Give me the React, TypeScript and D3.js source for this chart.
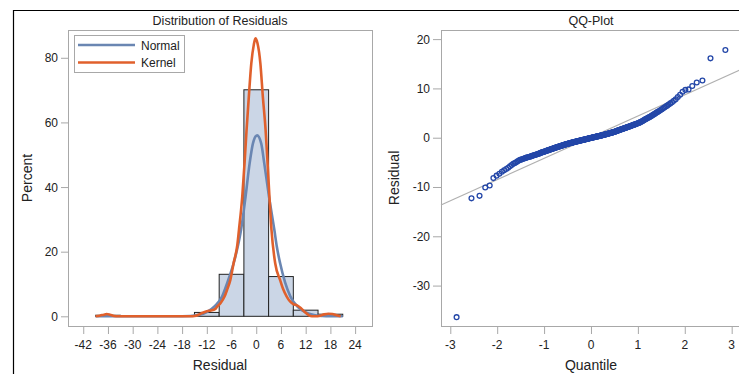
import React from "react";
import * as d3 from "d3";

// ---------- Data ----------
// Histogram bins (bin start, bin end, percent)
const binStarts = [-39, -33, -27, -21, -15, -9, -3, 3, 9, 15];
const binPercents = [0.33, 0, 0, 0, 1.2, 13.0, 70.1, 12.3, 1.9, 0.65];
const binWidth = 6;

// Normal density curve (residual, percent)
const normalCurve: [number, number][] = [
  [-39, 0], [-20, 0], [-16, 0.1], [-14, 0.4], [-12, 1.3], [-10, 3.2], [-8.3, 6.1], [-7, 10.5],
  [-5.5, 16.4], [-4.5, 21.5], [-3.7, 26.7], [-2.6, 37], [-1.6, 47.4], [-0.8, 53.5], [0.2, 56],
  [1.2, 53.5], [1.94, 47.4], [3.1, 37], [4.4, 26.7], [5.0, 21.5], [5.8, 16.4], [7, 10.5],
  [8.3, 6.1], [10, 3.0], [12, 1.2], [14, 0.4], [16, 0.1], [18, 0], [21, 0],
];

// Kernel density curve (residual, percent)
const kernelCurve: [number, number][] = [
  [-39, 0], [-38, 0.2], [-37, 0.5], [-36.3, 0.7], [-35.5, 0.5], [-34.5, 0.1], [-33.5, 0],
  [-20, 0], [-16, 0], [-15, 0.1], [-14, 0.5], [-13, 1.1], [-12, 1.6], [-11, 1.8], [-10, 2.2],
  [-9.5, 3.0], [-8.6, 4.2], [-7.7, 6.1], [-7.0, 8.5], [-6.3, 11.2], [-5.5, 16.4], [-4.6, 22],
  [-4.2, 26.7], [-3.4, 37], [-2.84, 47.4], [-2.35, 57.7], [-1.8, 68], [-1.2, 78.3], [-0.6, 84],
  [-0.2, 86], [0.3, 84.5], [1.0, 78.3], [1.6, 68], [2.27, 57.7], [2.75, 47.4], [3.2, 37],
  [3.7, 26.7], [4.6, 16.4], [5.8, 11.2], [6.5, 8.5], [7.4, 6.1], [8.2, 4.6], [9.0, 3.8],
  [9.9, 3.4], [10.8, 2.6], [11.8, 1.3], [12.8, 0.3], [13.5, 0], [14.5, 0], [15.5, 0.2],
  [16.5, 0.6], [17.5, 0.8], [18.5, 0.7], [19.5, 0.3], [20.5, 0],
];

const histXTicks = [-42, -36, -30, -24, -18, -12, -6, 0, 6, 12, 18, 24];
const histYTicks = [0, 20, 40, 60, 80];

// Sorted residuals (n = 300) for the QQ plot
const residuals = [
  -36.4, -12.3, -11.8, -10.1, -9.7, -8.2, -7.7, -7.3, -6.9, -6.6,
  -6.35, -6.1, -5.8, -5.55, -5.3, -5.15, -5.0, -4.8, -4.65, -4.5,
  -4.42, -4.34, -4.26, -4.18, -4.1, -4.04, -3.98, -3.92, -3.86, -3.8,
  -3.74, -3.68, -3.62, -3.56, -3.5, -3.45, -3.4, -3.35, -3.3, -3.25,
  -3.19, -3.13, -3.07, -3.02, -2.97, -2.93, -2.88, -2.84, -2.79, -2.75,
  -2.71, -2.66, -2.62, -2.58, -2.53, -2.49, -2.45, -2.41, -2.36, -2.32,
  -2.28, -2.25, -2.21, -2.17, -2.14, -2.1, -2.06, -2.02, -1.99, -1.95,
  -1.92, -1.88, -1.85, -1.82, -1.78, -1.75, -1.72, -1.69, -1.65, -1.62,
  -1.59, -1.56, -1.53, -1.5, -1.47, -1.44, -1.41, -1.38, -1.35, -1.32,
  -1.3, -1.27, -1.25, -1.22, -1.2, -1.17, -1.15, -1.12, -1.1, -1.07,
  -1.05, -1.03, -1.0, -0.98, -0.96, -0.94, -0.92, -0.89, -0.87, -0.85,
  -0.83, -0.81, -0.79, -0.77, -0.75, -0.73, -0.71, -0.69, -0.67, -0.65,
  -0.63, -0.61, -0.59, -0.57, -0.55, -0.53, -0.51, -0.49, -0.47, -0.45,
  -0.43, -0.41, -0.39, -0.37, -0.35, -0.33, -0.31, -0.29, -0.27, -0.25,
  -0.23, -0.21, -0.19, -0.17, -0.15, -0.13, -0.11, -0.09, -0.07, -0.05,
  -0.03, -0.01, 0.0, 0.02, 0.04, 0.06, 0.08, 0.09, 0.11, 0.13,
  0.15, 0.17, 0.19, 0.21, 0.23, 0.25, 0.26, 0.28, 0.3, 0.32,
  0.34, 0.36, 0.38, 0.4, 0.42, 0.44, 0.46, 0.48, 0.5, 0.52,
  0.54, 0.56, 0.59, 0.61, 0.63, 0.65, 0.67, 0.7, 0.72, 0.74,
  0.76, 0.79, 0.81, 0.83, 0.86, 0.88, 0.91, 0.93, 0.96, 0.98,
  1.01, 1.03, 1.06, 1.09, 1.11, 1.14, 1.17, 1.2, 1.22, 1.25,
  1.29, 1.32, 1.36, 1.39, 1.43, 1.46, 1.5, 1.53, 1.57, 1.6,
  1.64, 1.67, 1.71, 1.74, 1.78, 1.81, 1.85, 1.88, 1.92, 1.95,
  1.99, 2.03, 2.06, 2.1, 2.14, 2.18, 2.22, 2.25, 2.29, 2.33,
  2.38, 2.42, 2.47, 2.51, 2.56, 2.6, 2.65, 2.69, 2.74, 2.78,
  2.83, 2.88, 2.93, 2.97, 3.02, 3.1, 3.17, 3.25, 3.32, 3.4,
  3.49, 3.58, 3.67, 3.76, 3.85, 3.94, 4.03, 4.12, 4.21, 4.3,
  4.42, 4.54, 4.66, 4.78, 4.9, 5.04, 5.18, 5.32, 5.46, 5.6,
  5.78, 5.96, 6.14, 6.32, 6.5, 6.73, 6.96, 7.2, 7.5, 7.8,
  8.25, 8.7, 9.3, 9.7, 9.8, 10.5, 11.2, 11.6, 16.1, 17.8,
];

// Reference line: residual = mean + sd * quantile
const refMean = 0.1;
const refSd = 4.3;

const qqXTicks = [-3, -2, -1, 0, 1, 2, 3];
const qqYTicks = [-30, -20, -10, 0, 10, 20];

// ---------- helpers ----------
function invNorm(p: number): number {
  // Acklam's approximation
  const a = [-3.969683028665376e1, 2.209460984245205e2, -2.759285104469687e2, 1.38357751867269e2, -3.066479806614716e1, 2.506628277459239];
  const b = [-5.447609879822406e1, 1.615858368580409e2, -1.556989798598866e2, 6.680131188771972e1, -1.328068155288572e1];
  const c = [-7.784894002430293e-3, -3.223964580411365e-1, -2.400758277161838, -2.549732539343734, 4.374664141464968, 2.938163982698783];
  const d = [7.784695709041462e-3, 3.224671290700398e-1, 2.445134137142996, 3.754408661907416];
  const pl = 0.02425;
  if (p < pl) {
    const q = Math.sqrt(-2 * Math.log(p));
    return (((((c[0] * q + c[1]) * q + c[2]) * q + c[3]) * q + c[4]) * q + c[5]) / ((((d[0] * q + d[1]) * q + d[2]) * q + d[3]) * q + 1);
  }
  if (p > 1 - pl) {
    const q = Math.sqrt(-2 * Math.log(1 - p));
    return -(((((c[0] * q + c[1]) * q + c[2]) * q + c[3]) * q + c[4]) * q + c[5]) / ((((d[0] * q + d[1]) * q + d[2]) * q + d[3]) * q + 1);
  }
  const q = p - 0.5;
  const r = q * q;
  return ((((((a[0] * r + a[1]) * r + a[2]) * r + a[3]) * r + a[4]) * r + a[5]) * q) / (((((b[0] * r + b[1]) * r + b[2]) * r + b[3]) * r + b[4]) * r + 1);
}

const FONT = "'Liberation Sans', Arial, Helvetica, sans-serif";
const AXIS = "#a8a8a8";
const TEXT = "#222";

export default function App() {
  // Left panel
  const L = { x0: 68, x1: 372, y0: 30, y1: 326 };
  const hx = d3.scaleLinear().domain([-45.7, 28.1]).range([L.x0, L.x1]);
  const hy = d3.scaleLinear().domain([-3.0, 88.6]).range([L.y1, L.y0]);
  const lineH = d3
    .line<[number, number]>()
    .x((d) => hx(d[0]))
    .y((d) => hy(d[1]))
    .curve(d3.curveMonotoneX);

  // Right panel
  const R = { x0: 441, x1: 760, y0: 30, y1: 326 };
  const qx = d3.scaleLinear().domain([-3.198, 3.604]).range([R.x0, R.x1]);
  const qy = d3.scaleLinear().domain([-38.2, 21.85]).range([R.y1, R.y0]);
  const n = residuals.length;
  const qq = residuals.map((r, i) => [invNorm((i + 1 - 0.375) / (n + 0.25)), r] as [number, number]);
  const refQ = qx.domain();

  return (
    <svg
      width={739}
      height={374}
      style={{ position: "absolute", left: 0, top: 0, background: "#fff" }}
      fontFamily={FONT}
    >
      <rect x={0} y={0} width={739} height={374} fill="#fff" />
      {/* outer frame */}
      <path d="M13.5,374 L13.5,10.5 L739,10.5" fill="none" stroke="#000" strokeWidth={1.2} />

      {/* ---------------- Left: histogram ---------------- */}
      <text x={(L.x0 + L.x1) / 2} y={24.5} textAnchor="middle" fontSize={12.5} fill={TEXT}>
        Distribution of Residuals
      </text>
      <rect x={L.x0 + 0.5} y={L.y0 + 0.5} width={L.x1 - L.x0} height={L.y1 - L.y0} fill="none" stroke={AXIS} strokeWidth={1} />
      {binStarts.map((s, i) =>
        binPercents[i] > 0 ? (
          <rect
            key={i}
            x={hx(s)}
            y={hy(binPercents[i])}
            width={hx(s + binWidth) - hx(s)}
            height={hy(0) - hy(binPercents[i])}
            fill="#CBD6E6"
            stroke="#222"
            strokeWidth={1}
          />
        ) : null
      )}
      <path d={lineH(normalCurve) || ""} fill="none" stroke="#6A86B2" strokeWidth={2.6} strokeLinejoin="round" />
      <path d={lineH(kernelCurve) || ""} fill="none" stroke="#E0602C" strokeWidth={2.6} strokeLinejoin="round" />

      {/* y axis */}
      {histYTicks.map((t) => (
        <g key={t}>
          <line x1={L.x0 - 7} x2={L.x0} y1={hy(t) + 0.5} y2={hy(t) + 0.5} stroke={AXIS} />
          <text x={L.x0 - 10} y={hy(t) + 4.5} textAnchor="end" fontSize={12} fill={TEXT}>
            {t}
          </text>
        </g>
      ))}
      {/* x axis */}
      {histXTicks.map((t) => (
        <g key={t}>
          <line x1={hx(t) + 0.5} x2={hx(t) + 0.5} y1={L.y1} y2={L.y1 + 8} stroke={AXIS} />
          <text x={hx(t)} y={349} textAnchor="middle" fontSize={12} fill={TEXT}>
            {t}
          </text>
        </g>
      ))}
      <text x={(L.x0 + L.x1) / 2} y={370} textAnchor="middle" fontSize={14} fill={TEXT}>
        Residual
      </text>
      <text transform={`translate(32,${(L.y0 + L.y1) / 2}) rotate(-90)`} textAnchor="middle" fontSize={14} fill={TEXT}>
        Percent
      </text>

      {/* legend */}
      <rect x={74.5} y={35.5} width={110} height={37} fill="#fff" stroke={AXIS} />
      <line x1={78} x2={135} y1={45} y2={45} stroke="#6A86B2" strokeWidth={2.6} />
      <line x1={78} x2={135} y1={62.5} y2={62.5} stroke="#E0602C" strokeWidth={2.6} />
      <text x={141} y={49.5} fontSize={12} fill={TEXT}>Normal</text>
      <text x={141} y={67} fontSize={12} fill={TEXT}>Kernel</text>

      {/* ---------------- Right: QQ plot ---------------- */}
      <text x={591} y={24.5} textAnchor="middle" fontSize={12.5} fill={TEXT}>
        QQ-Plot
      </text>
      <rect x={R.x0 + 0.5} y={R.y0 + 0.5} width={R.x1 - R.x0} height={R.y1 - R.y0} fill="none" stroke={AXIS} strokeWidth={1} />
      <line
        x1={qx(refQ[0])}
        y1={qy(refMean + refSd * refQ[0])}
        x2={qx(refQ[1])}
        y2={qy(refMean + refSd * refQ[1])}
        stroke="#b0b0b0"
        strokeWidth={1.2}
      />
      {qq.map((d, i) => (
        <circle key={i} cx={qx(d[0])} cy={qy(d[1])} r={2.4} fill="none" stroke="#2447A8" strokeWidth={1.3} />
      ))}
      {qqYTicks.map((t) => (
        <g key={t}>
          <line x1={R.x0 - 8} x2={R.x0} y1={qy(t) + 0.5} y2={qy(t) + 0.5} stroke={AXIS} />
          <text x={R.x0 - 11} y={qy(t) + 4.5} textAnchor="end" fontSize={12} fill={TEXT}>
            {t}
          </text>
        </g>
      ))}
      {qqXTicks.map((t) => (
        <g key={t}>
          <line x1={qx(t) + 0.5} x2={qx(t) + 0.5} y1={R.y1} y2={R.y1 + 8} stroke={AXIS} />
          <text x={qx(t)} y={349} textAnchor="middle" fontSize={12} fill={TEXT}>
            {t}
          </text>
        </g>
      ))}
      <text x={591} y={370} textAnchor="middle" fontSize={14} fill={TEXT}>
        Quantile
      </text>
      <text transform={`translate(399,${(R.y0 + R.y1) / 2}) rotate(-90)`} textAnchor="middle" fontSize={14} fill={TEXT}>
        Residual
      </text>
    </svg>
  );
}
